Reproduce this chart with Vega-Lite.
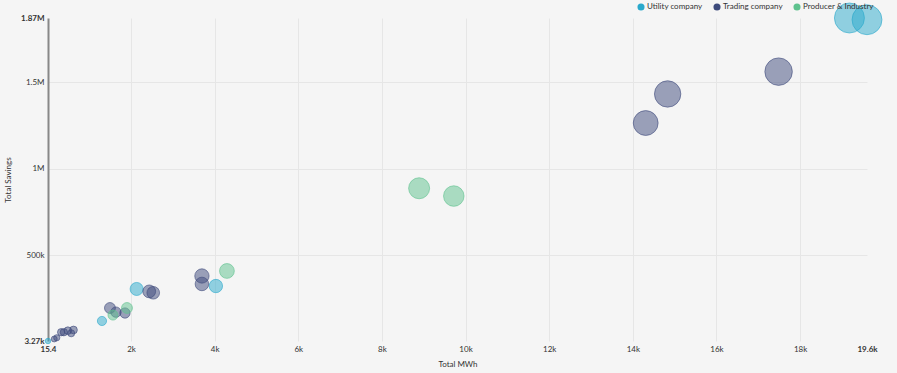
{
  "$schema": "https://vega.github.io/schema/vega-lite/v6.json",
  "width": 819,
  "height": 323,
  "autosize": {"type": "none"},
  "padding": {"left": 48, "top": 18, "right": 30, "bottom": 32},
  "background": "#f5f5f5",
  "config": {
    "view": {"stroke": null},
    "font": "Lato",
    "axis": {"labelFont": "Lato", "titleFont": "Lato"},
    "legend": {"labelFont": "Lato"}
  },
  "data": {
    "values": [
      {"type": "Utility company", "mwh": 19180, "savings": 1870000},
      {"type": "Utility company", "mwh": 19600, "savings": 1860000},
      {"type": "Utility company", "mwh": 2135, "savings": 304000},
      {"type": "Utility company", "mwh": 4030, "savings": 321000},
      {"type": "Utility company", "mwh": 1306, "savings": 119000},
      {"type": "Utility company", "mwh": 15.4, "savings": 3270},
      {"type": "Trading company", "mwh": 17486, "savings": 1560000},
      {"type": "Trading company", "mwh": 14833, "savings": 1431000},
      {"type": "Trading company", "mwh": 14308, "savings": 1263000},
      {"type": "Trading company", "mwh": 3696, "savings": 379000},
      {"type": "Trading company", "mwh": 3696, "savings": 333000},
      {"type": "Trading company", "mwh": 2436, "savings": 290000},
      {"type": "Trading company", "mwh": 2532, "savings": 282000},
      {"type": "Trading company", "mwh": 1497, "savings": 194000},
      {"type": "Trading company", "mwh": 1640, "savings": 170000},
      {"type": "Trading company", "mwh": 1856, "savings": 165000},
      {"type": "Trading company", "mwh": 330, "savings": 54000},
      {"type": "Trading company", "mwh": 395, "savings": 54000},
      {"type": "Trading company", "mwh": 490, "savings": 63000},
      {"type": "Trading company", "mwh": 570, "savings": 48000},
      {"type": "Trading company", "mwh": 625, "savings": 67000},
      {"type": "Trading company", "mwh": 165, "savings": 15000},
      {"type": "Trading company", "mwh": 225, "savings": 22000},
      {"type": "Producer & Industry", "mwh": 8890, "savings": 886000},
      {"type": "Producer & Industry", "mwh": 9719, "savings": 841000},
      {"type": "Producer & Industry", "mwh": 4294, "savings": 408000},
      {"type": "Producer & Industry", "mwh": 1904, "savings": 194000},
      {"type": "Producer & Industry", "mwh": 1569, "savings": 153000}
    ]
  },
  "mark": {"type": "circle", "fillOpacity": 0.5, "strokeWidth": 1, "strokeOpacity": 0.6, "clip": false},
  "encoding": {
    "x": {
      "field": "mwh",
      "type": "quantitative",
      "title": "Total MWh",
      "scale": {"domain": [15.4, 19600], "nice": false, "zero": false},
      "axis": {
        "values": [15.4, 2000, 4000, 6000, 8000, 10000, 12000, 14000, 16000, 18000, 19600],
        "labelExpr": "format(datum.value, '.3~s')",
        "domain": false,
        "ticks": false,
        "labelPadding": 4,
        "labelFlush": false,
        "labelOverlap": false,
        "labelFontSize": 8,
        "labelColor": "#333333",
        "labelFontWeight": {"condition": {"test": "datum.value < 100 || datum.value > 19000", "value": "bold"}, "value": "normal"},
        "gridColor": {"condition": {"test": "datum.value < 100 || datum.value > 19000", "value": "transparent"}, "value": "#e6e6e6"},
        "titleFontSize": 8,
        "titleFontWeight": "normal",
        "titleColor": "#333333",
        "titlePadding": 7
      }
    },
    "y": {
      "field": "savings",
      "type": "quantitative",
      "title": "Total Savings",
      "scale": {"domain": [3270, 1870000], "nice": false, "zero": false},
      "axis": {
        "values": [3270, 500000, 1000000, 1500000, 1870000],
        "labelExpr": "format(datum.value, '.3~s')",
        "domain": true,
        "domainColor": "#888888",
        "domainWidth": 2,
        "ticks": false,
        "labelPadding": 4,
        "labelFlush": false,
        "labelOverlap": false,
        "labelFontSize": 8,
        "labelColor": "#333333",
        "labelFontWeight": {"condition": {"test": "datum.value < 4000 || datum.value > 1800000", "value": "bold"}, "value": "normal"},
        "gridColor": {"condition": {"test": "datum.value < 4000 || datum.value > 1800000", "value": "transparent"}, "value": "#e6e6e6"},
        "titleFontSize": 8,
        "titleFontWeight": "normal",
        "titleColor": "#333333",
        "titlePadding": 8
      }
    },
    "size": {
      "field": "savings",
      "type": "quantitative",
      "scale": {"domain": [3270, 1870000], "range": [30, 900], "zero": false},
      "legend": null
    },
    "color": {
      "field": "type",
      "type": "nominal",
      "scale": {"domain": ["Utility company", "Trading company", "Producer & Industry"], "range": ["#2aa9cc", "#3d4a7b", "#5ec28e"]},
      "legend": {
        "title": null,
        "orient": "none",
        "direction": "horizontal",
        "legendX": 589,
        "legendY": -15,
        "symbolType": "circle",
        "symbolSize": 50,
        "symbolOpacity": 1,
        "symbolStrokeWidth": 0,
        "labelFontSize": 8,
        "labelColor": "#333333",
        "labelOffset": 2,
        "columnPadding": 10
      }
    },
    "stroke": {
      "field": "type",
      "type": "nominal",
      "scale": {"domain": ["Utility company", "Trading company", "Producer & Industry"], "range": ["#2aa9cc", "#3d4a7b", "#5ec28e"]},
      "legend": null
    }
  }
}
